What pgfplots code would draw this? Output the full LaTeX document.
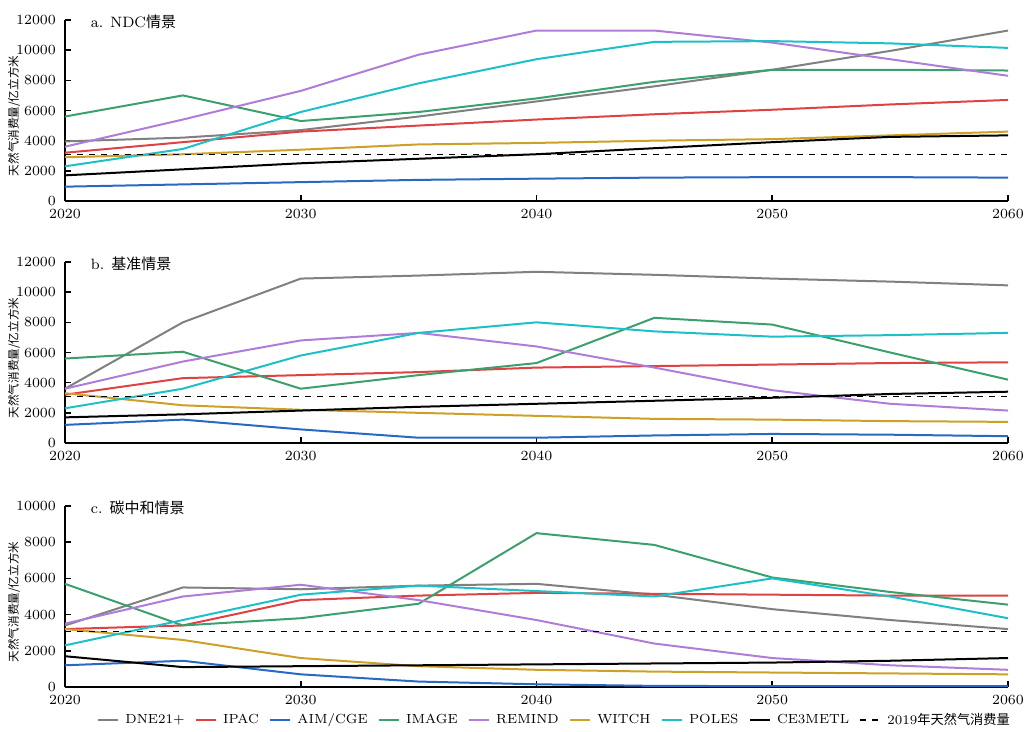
\documentclass[border=0pt]{standalone}
\usepackage{pgfplots}
\pgfplotsset{compat=1.18}
\usepackage{pgfplotstable}
\usepackage{fontspec}
\newfontfamily\cjk{Noto Sans CJK SC}
\definecolor{cDNE}{RGB}{128,128,128}
\definecolor{cIPAC}{RGB}{222,66,66}
\definecolor{cAIM}{RGB}{40,105,195}
\definecolor{cIMAGE}{RGB}{60,160,110}
\definecolor{cREMIND}{RGB}{175,125,215}
\definecolor{cWITCH}{RGB}{205,160,40}
\definecolor{cPOLES}{RGB}{30,192,200}
\pgfplotstableread{
year dne ipac aim image remind witch poles ce
2020 3950 3200 950 5600 3600 2900 2300 1700
2025 4200 3900 1100 7000 5400 3100 3450 2100
2030 4700 4600 1250 5300 7300 3400 5900 2500
2035 5600 5000 1400 5900 9700 3750 7800 2800
2040 6600 5400 1480 6800 11300 3850 9400 3100
2045 7600 5750 1550 7900 11300 4000 10550 3500
2050 8700 6050 1580 8700 10500 4100 10600 3900
2055 9950 6400 1580 8700 9400 4350 10450 4250
2060 11300 6700 1550 8650 8300 4600 10150 4350
}\tA
\pgfplotstableread{
year dne ipac aim image remind witch poles ce
2020 3600 3200 1200 5600 3600 3300 2300 1700
2025 8000 4300 1550 6050 5400 2500 3600 1900
2030 10900 4500 900 3600 6800 2200 5800 2150
2035 11100 4700 350 4500 7300 2000 7300 2400
2040 11350 5000 350 5300 6400 1800 8000 2600
2045 11150 5100 500 8300 5000 1600 7400 2800
2050 10900 5200 600 7850 3500 1550 7050 3000
2055 10700 5300 550 6000 2600 1450 7150 3250
2060 10450 5350 450 4200 2150 1400 7300 3400
}\tB
\pgfplotstableread{
year dne ipac aim image remind witch poles ce
2020 3400 3200 1200 5700 3500 3200 2300 1700
2025 5500 3400 1450 3400 5000 2600 3700 1100
2030 5400 4800 700 3800 5650 1600 5100 1150
2035 5600 5050 300 4600 4800 1150 5600 1200
2040 5700 5200 150 8500 3700 950 5300 1250
2045 5100 5150 60 7850 2400 850 5000 1300
2050 4300 5100 50 6050 1600 800 6000 1350
2055 3700 5050 50 5250 1200 750 5000 1450
2060 3200 5050 50 4550 950 700 3800 1600
}\tC
\pgfplotsset{
  panel/.style={
    scale only axis, width=471.5pt, height=90.5pt,
    anchor=origin,
    xmin=2020, xmax=2060, ymin=0,
    axis lines*=left, axis line style={line width=1pt},
    tick align=inside, tick style={black, line width=0.8pt},
    major tick length=3pt,
    xtick={2020,2030,2040,2050,2060},
    ytick distance=2000,
    scaled y ticks=false,
    ticklabel style={font=\fontsize{7}{8}\selectfont},
    /pgf/number format/set thousands separator={},
    xticklabel style={yshift=-0.5pt},
    yticklabel style={xshift=-1pt},
    ylabel={\cjk\fontsize{5.8}{7}\selectfont 天然气消费量/亿立方米},
    ylabel style={at={(axis description cs:-0.054,0.47)}, anchor=center, rotate=0},
    every axis plot/.append style={line width=1pt},
    clip=false,
  }
}
\newcommand{\allseries}[1]{%
  \addplot[cDNE] table[x=year,y=dne]{#1};
  \addplot[cIPAC] table[x=year,y=ipac]{#1};
  \addplot[cAIM] table[x=year,y=aim]{#1};
  \addplot[cIMAGE] table[x=year,y=image]{#1};
  \addplot[cREMIND] table[x=year,y=remind]{#1};
  \addplot[cWITCH] table[x=year,y=witch]{#1};
  \addplot[cPOLES] table[x=year,y=poles]{#1};
  \addplot[black] table[x=year,y=ce]{#1};
  \addplot[black, dashed, line width=0.8pt] coordinates {(2020,3070) (2060,3070)};
}
\begin{document}
\begin{tikzpicture}
\path (0,0) rectangle (516pt,365.5pt);
\begin{axis}[panel, at={(32.5pt,265pt)}, ymax=12000]
\allseries{\tA}
\node[anchor=west, font=\fontsize{7.5}{9}\selectfont] at (axis cs:2020.8,11900) {a. NDC\cjk{情景}};
\end{axis}
\begin{axis}[panel, at={(32.5pt,144pt)}, ymax=12000]
\allseries{\tB}
\node[anchor=west, font=\fontsize{7.5}{9}\selectfont] at (axis cs:2020.8,11900) {b. \cjk{基准情景}};
\end{axis}
\begin{axis}[panel, at={(32.5pt,22pt)}, ymax=10000,
  legend columns=9,
  legend style={at={(0.52,-0.12)}, anchor=north, draw=none, fill=none,
    font=\fontsize{6.6}{8}\selectfont, inner sep=0pt,
    /tikz/every odd column/.append style={column sep=1pt},
    /tikz/every even column/.append style={column sep=3pt}},
  legend image code/.code={\draw[#1] (0cm,0cm) -- (0.36cm,0cm);}]
\allseries{\tC}
\legend{DNE21+, IPAC, AIM/CGE, IMAGE, REMIND, WITCH, POLES, CE3METL, {2019\cjk{年天然气消费量}}}
\node[anchor=west, font=\fontsize{7.5}{9}\selectfont] at (axis cs:2020.8,9900) {c. \cjk{碳中和情景}};
\end{axis}
\end{tikzpicture}
\end{document}
